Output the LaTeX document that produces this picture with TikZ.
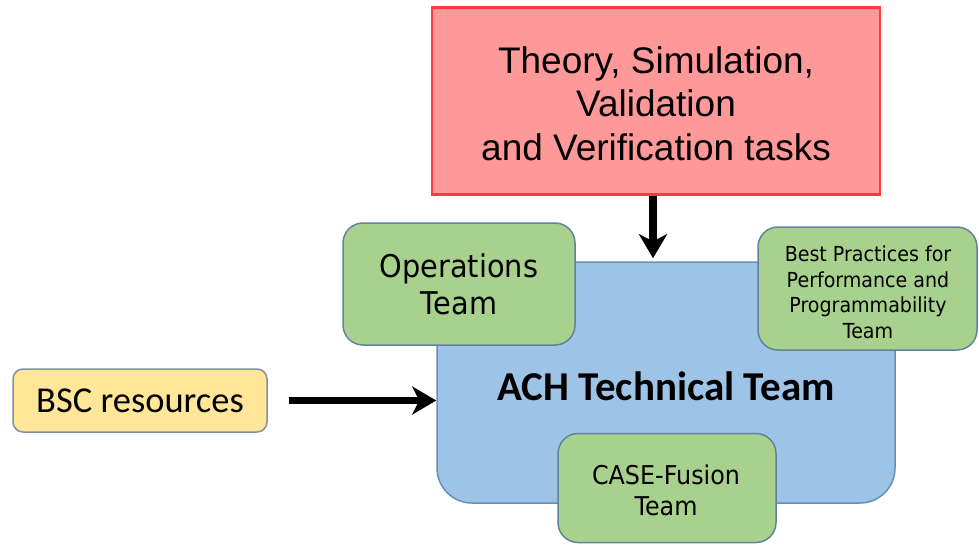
\documentclass[tikz,border=0pt]{standalone}
\usepackage{fontspec}
\setmainfont{Liberation Sans}
\newfontfamily\carlito{Carlito}
\newfontfamily\dvs[FakeStretch=0.92]{DejaVu Sans}
\usetikzlibrary{arrows.meta}
\definecolor{redfill}{HTML}{FF9999}
\definecolor{redline}{HTML}{FF3B3B}
\definecolor{bluefill}{HTML}{9DC3E6}
\definecolor{blueline}{HTML}{6B8FB3}
\definecolor{greenfill}{HTML}{A9D18E}
\definecolor{greenline}{HTML}{62829A}
\definecolor{yelfill}{HTML}{FFE699}
\definecolor{yelline}{HTML}{7F90A2}
\tikzset{
  box/.style={draw, line width=1.5pt, inner sep=0pt, align=center},
  greenbox/.style={box, fill=greenfill, draw=greenline, rounded corners=20pt},
  txt/.style={inner sep=0pt, align=center},
  arr/.style={line width=7.5pt, -{Stealth[length=24pt,width=28pt,inset=7pt]}},
}
\begin{document}
\begin{tikzpicture}[x=1pt,y=-1pt]
\useasboundingbox (0,0) rectangle (979,544);
% ACH main box
\node[box, fill=bluefill, draw=blueline, rounded corners=35pt,
      minimum width=458pt, minimum height=241pt] (ach) at (666,382.5) {};
\node[txt, font=\carlito\bfseries\fontsize{41}{48}\selectfont] (achlabel) at (666,386) {ACH Technical Team};
% Red box
\node[box, fill=redfill, draw=redline, line width=2.5pt,
      minimum width=448pt, minimum height=187pt] (red) at (656,101) {};
\node[txt, font=\fontsize{37}{43.5}\selectfont] (redtext) at (656,103.5)
      {Theory, Simulation,\\Validation\\and Verification tasks};
% Green boxes
\node[greenbox, minimum width=232pt, minimum height=122pt,
      font=\dvs\fontsize{31.3}{37}\selectfont] (ops) at (459,284)
      {Operations\\Team};
\node[greenbox, minimum width=219pt, minimum height=123pt] (best) at (867.5,288.5) {};
\node[txt, font=\dvs\fontsize{20.7}{25.5}\selectfont] (besttext) at (868,292.5)
      {Best Practices for\\Performance and\\Programmability\\Team};
\node[greenbox, minimum width=218pt, minimum height=109pt] (case) at (667,488) {};
\node[txt, font=\dvs\fontsize{25.9}{30.5}\selectfont] (casetext) at (666,490.5)
      {CASE-Fusion\\Team};
% BSC box
\node[box, fill=yelfill, draw=yelline, rounded corners=10pt,
      minimum width=254pt, minimum height=63pt,
      font=\carlito\fontsize{36.5}{42}\selectfont] (bsc) at (140,400.5)
      {BSC resources};
% Arrows
\draw[arr] ([xshift=-3pt]red.south) -- ([xshift=-13pt,yshift=3pt]ach.north);
\draw[arr] ([xshift=21pt]bsc.east) -- (bsc.east -| ach.west);
\end{tikzpicture}
\end{document}
